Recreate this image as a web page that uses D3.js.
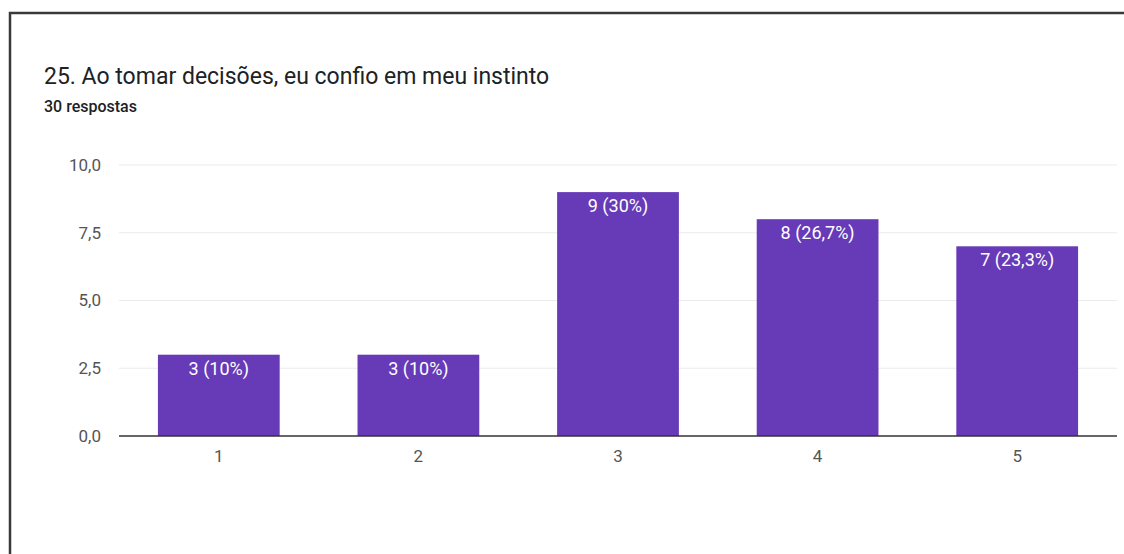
<!DOCTYPE html>
<html><head><meta charset="utf-8">
<script src="https://cdn.jsdelivr.net/npm/d3@7/dist/d3.min.js"></script>
<style>body{margin:0;background:#fff;} svg{display:block;}</style>
</head><body>
<svg id="c" width="1124" height="554"></svg>
<script>
const categories = ["1","2","3","4","5"];
const values = [3,3,9,8,7];
const valueLabels = ["3 (10%)","3 (10%)","9 (30%)","8 (26,7%)","7 (23,3%)"];
const yTicks = [0,2.5,5,7.5,10];
const title = "25. Ao tomar decisões, eu confio em meu instinto";
const subtitle = "30 respostas";

const svg = d3.select("#c");
const font = "Roboto, Arial, sans-serif";

// border (left + top)
svg.append("path").attr("d","M10,554 V13 H1124").attr("fill","none").attr("stroke","#3a3a3a").attr("stroke-width",2.5);

svg.append("text").attr("x",44).attr("y",84).attr("font-family",font).attr("font-size",23).attr("fill","#202124").text(title);
svg.append("text").attr("x",44).attr("y",112).attr("font-family",font).attr("font-size",16).attr("font-weight",500).attr("fill","#202124").text(subtitle);

const x = d3.scaleBand().domain(categories).range([119,1117]).paddingInner(0.39).paddingOuter(0.195);
const y = d3.scaleLinear().domain([0,10]).range([436,165]);

// gridlines
svg.append("g").selectAll("line").data(yTicks.slice(1)).join("line")
  .attr("x1",119).attr("x2",1117).attr("y1",d=>y(d)).attr("y2",d=>y(d))
  .attr("stroke","#ebebeb").attr("stroke-width",1);

// y axis labels
const yAxis = d3.axisLeft(y).tickValues(yTicks).tickSize(0).tickPadding(0)
  .tickFormat(d=>d3.format(".1f")(d).replace(".",","));
const gy = svg.append("g").attr("transform","translate(101,0)").call(yAxis);
gy.select(".domain").remove();
gy.selectAll("text").attr("font-family",font).attr("font-size",17).attr("fill","#555");

// bars
svg.append("g").selectAll("rect").data(values).join("rect")
  .attr("x",(d,i)=>x(categories[i])).attr("width",x.bandwidth())
  .attr("y",d=>y(d)).attr("height",d=>y(0)-y(d)).attr("fill","#673ab7");

svg.append("g").selectAll("text").data(values).join("text")
  .attr("x",(d,i)=>x(categories[i])+x.bandwidth()/2).attr("y",d=>y(d)+20)
  .attr("text-anchor","middle").attr("font-family",font).attr("font-size",18).attr("fill","#fff")
  .text((d,i)=>valueLabels[i]);

// baseline
svg.append("line").attr("x1",119).attr("x2",1117).attr("y1",y(0)).attr("y2",y(0)).attr("stroke","#333").attr("stroke-width",1.5);

// x axis
const xAxis = d3.axisBottom(x).tickSize(0).tickPadding(0);
const gx = svg.append("g").attr("transform",`translate(0,${y(0)+26})`).call(xAxis);
gx.select(".domain").remove();
gx.selectAll("text").attr("font-family",font).attr("font-size",17).attr("fill","#555").attr("dy",0);
</script>
</body></html>
